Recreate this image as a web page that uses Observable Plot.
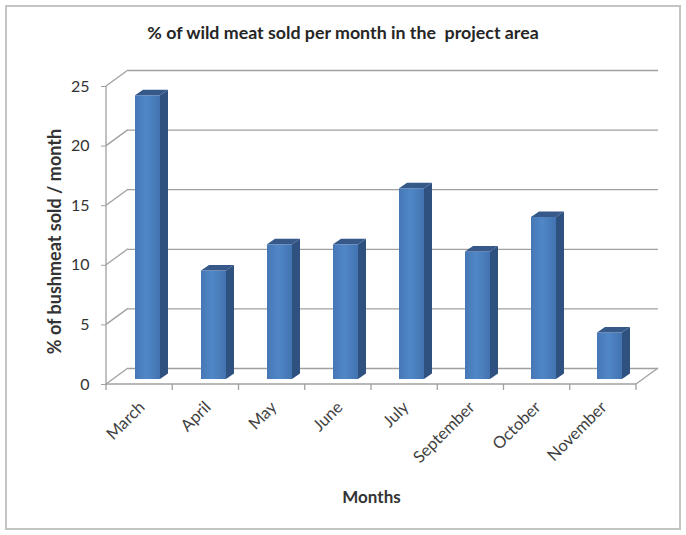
<!DOCTYPE html>
<html><head><meta charset="utf-8">
<script src="https://cdn.jsdelivr.net/npm/d3@7"></script>
<script src="https://cdn.jsdelivr.net/npm/@observablehq/plot@0.6"></script>
<style>
body{margin:0;background:#fff;}
#wrap{position:relative;width:686px;height:535px;overflow:hidden;font-family:Lato,sans-serif;}
#border{position:absolute;left:5px;top:5px;width:672px;height:521px;border:2px solid #c4c4c4;}
#title{position:absolute;left:0;width:686px;top:21px;text-align:center;font:bold 17.8px Lato,sans-serif;color:#262626;white-space:pre;}
#chart{position:absolute;left:0;top:0;}
</style></head><body>
<div id="wrap"><div id="border"></div><div id="title"></div><div id="chart"></div></div>
<script>
const title = "% of wild meat sold per month in the  project area";
const months = ["March","April","May","June","July","September","October","November"];
const values = [23.8, 9.1, 11.3, 11.3, 16.0, 10.7, 13.6, 3.9];
const yTicks = [0, 5, 10, 15, 20, 25];
const yLabel = "% of bushmeat sold / month";
const xLabel = "Months";

const data = months.map((m, i) => ({month: m, value: values[i]}));
const WALL = {dx: 22, dy: -16};          // back-wall offset (3D depth)
const BAR = {dx: 8, dy: -5, sx: 8, sy: -5.5}; // bar placement depth and bar thickness
const grid = "#a0a0a0";

document.getElementById("title").textContent = title;

function walls(index, scales, values, dim) {
  const y = scales.y;
  const x0 = dim.marginLeft, x1 = dim.width - dim.marginRight;
  const step = (x1 - x0) / months.length;
  const g = d3.create("svg:g").attr("fill", "none").attr("stroke", grid).attr("stroke-width", 1.3);
  const line = (a, b, c, d) => g.append("line").attr("x1", a).attr("y1", b).attr("x2", c).attr("y2", d);
  for (const t of yTicks) line(x0, y(t), x0 + WALL.dx, y(t) + WALL.dy);
  line(x1, y(0), x1 + WALL.dx, y(0) + WALL.dy);
  line(x0, y(0), x0, y(yTicks[yTicks.length - 1]));
  line(x0, y(0), x1, y(0));
  for (let k = 0; k <= months.length; k++) line(x0 + k * step, y(0), x0 + k * step, y(0) + 6);
  return g.node();
}

function faces(index, scales) {
  const x = scales.x, y = scales.y;
  const bw = x.bandwidth();
  const g = d3.create("svg:g");
  for (const d of data) {
    const xl = x(d.month) + BAR.dx, xr = xl + bw;
    const yt = y(d.value) + BAR.dy, yb = y(0) + BAR.dy;
    g.append("polygon").attr("fill", "#2e5180")
      .attr("points", [[xr, yt], [xr + BAR.sx, yt + BAR.sy], [xr + BAR.sx, yb + BAR.sy], [xr, yb]].join(" "));
    g.append("polygon").attr("fill", "#36598a")
      .attr("points", [[xl, yt], [xl + BAR.sx, yt + BAR.sy], [xr + BAR.sx, yt + BAR.sy], [xr, yt]].join(" "));
  }
  return g.node();
}

function defs() {
  const d = d3.create("svg:defs");
  const lg = d.append("linearGradient").attr("id", "frontGrad").attr("x1", 0).attr("x2", 1).attr("y1", 0).attr("y2", 0);
  lg.append("stop").attr("offset", "0%").attr("stop-color", "#4677b6");
  lg.append("stop").attr("offset", "45%").attr("stop-color", "#5087c6");
  lg.append("stop").attr("offset", "100%").attr("stop-color", "#4373b1");
  return d.node();
}

const chart = Plot.plot({
  width: 686,
  height: 535,
  marginLeft: 106,
  marginRight: 50,
  marginTop: 86,
  marginBottom: 151,
  style: {fontFamily: "Lato, sans-serif", color: "#333", background: "transparent"},
  x: {type: "band", domain: months, paddingInner: 0.62, paddingOuter: 0.31, axis: null},
  y: {domain: [0, 25], axis: null},
  marks: [
    defs,
    Plot.ruleY(yTicks, {dx: WALL.dx, dy: WALL.dy, stroke: grid, strokeWidth: 1.3}),
    walls,
    Plot.barY(data, {x: "month", y: "value", dx: BAR.dx, dy: BAR.dy, fill: "url(#frontGrad)"}),
    faces,
    Plot.axisY({ticks: yTicks, tickSize: 5, tickPadding: 12, fontSize: 16, stroke: grid, fill: "#333", label: null}),
    Plot.axisX({tickSize: 0, tickRotate: -45, fontSize: 16.5, tickPadding: 20, dx: 2, fill: "#404040", label: null}),
    Plot.text([yLabel], {text: d => d, frameAnchor: "left", textAnchor: "middle", dx: -51, dy: 6, rotate: -90, fontWeight: "bold", fontSize: 18, fill: "#333"}),
    Plot.text([xLabel], {text: d => d, frameAnchor: "bottom", dy: 118, fontWeight: "bold", fontSize: 17, fill: "#333"})
  ]
});
document.getElementById("chart").appendChild(chart);
</script>
</body></html>
